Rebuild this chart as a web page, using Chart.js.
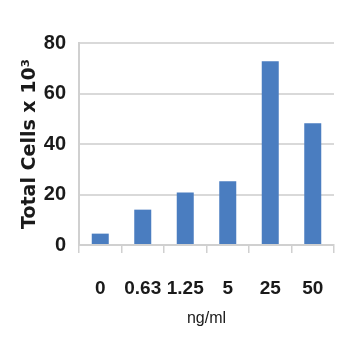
<!DOCTYPE html>
<html><head><meta charset="utf-8">
<script src="https://cdn.jsdelivr.net/npm/chart.js@4/dist/chart.umd.min.js"></script>
<style>html,body{margin:0;padding:0;background:#fff}canvas{display:block}</style>
</head><body>
<canvas id="c" width="358" height="358"></canvas>
<script>
const categories = ["0", "0.63", "1.25", "5", "25", "50"];
const totalCells = [4.5, 14, 20.8, 25.2, 72.8, 48.2];
const yTicks = [0, 20, 40, 60, 80];

const sans = "'Liberation Sans', Arial, sans-serif";
new Chart(document.getElementById('c'), {
  type: 'bar',
  data: {
    labels: categories,
    datasets: [{ data: totalCells, backgroundColor: '#4a7dc0', categoryPercentage: 1, barPercentage: 0.4 }]
  },
  options: {
    responsive: false, animation: false,
    layout: { padding: { top: 43, right: 24, left: 0, bottom: 0 } },
    plugins: { legend: { display: false }, tooltip: { enabled: false } },
    scales: {
      x: {
        afterFit: s => { s.height = 113; },
        grid: { drawOnChartArea: false, drawTicks: true, tickLength: 8, color: '#d0d0d0', lineWidth: 1.5 },
        border: { color: '#d0d0d0', width: 2 },
        ticks: { padding: 24, maxRotation: 0, minRotation: 0, autoSkip: false, color: '#1a1a1a', font: { family: sans, size: 19, weight: 'bold' } },
        title: { display: true, text: 'ng/ml', color: '#1a1a1a', padding: { top: 4, bottom: 30 }, font: { family: sans, size: 16 } }
      },
      y: {
        min: 0, max: 80,
        afterFit: s => { s.width = 79; },
        afterBuildTicks: s => { s.ticks = yTicks.map(v => ({ value: v })); },
        grid: { drawTicks: false, color: '#d9d9d9', lineWidth: 2 },
        border: { color: '#d0d0d0', width: 2 },
        ticks: { padding: 13, color: '#1a1a1a', font: { family: sans, size: 20, weight: 'bold' } },
        title: { display: true, text: 'Total Cells x 10³', color: '#1a1a1a', padding: { top: 19, bottom: 0 }, font: { family: "'DejaVu Sans', sans-serif", size: 19, weight: 'bold' } }
      }
    }
  }
});
</script>
</body></html>
